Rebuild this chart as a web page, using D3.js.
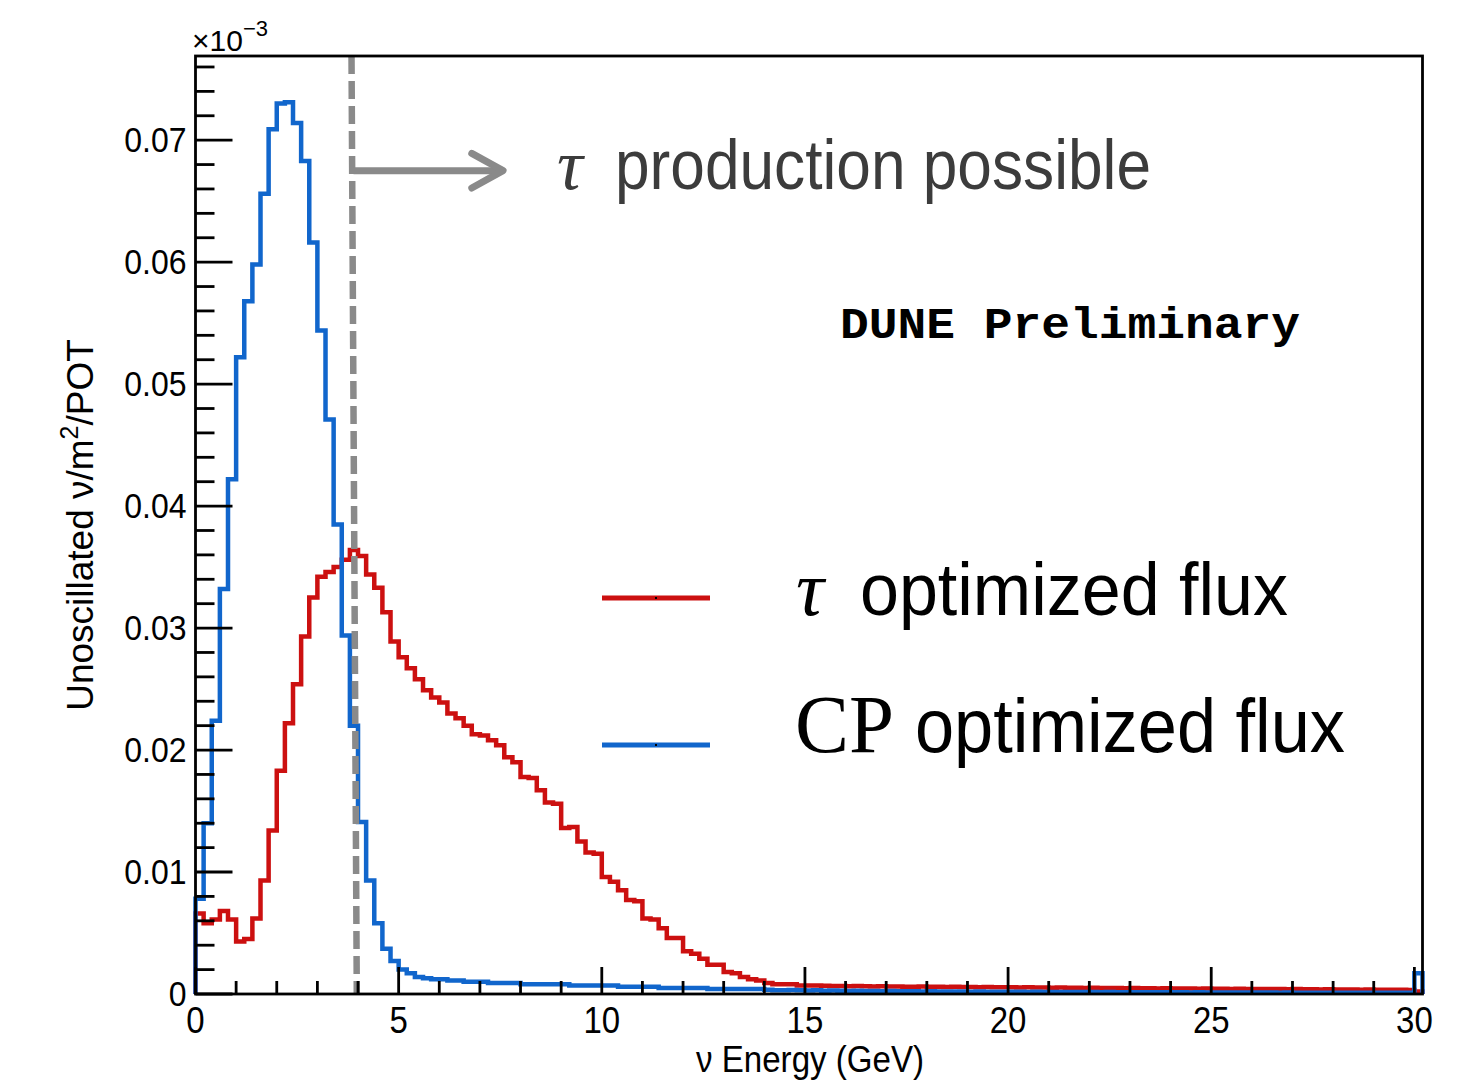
<!DOCTYPE html>
<html><head><meta charset="utf-8">
<script src="https://cdn.jsdelivr.net/npm/d3@7"></script>
<style>html,body{margin:0;padding:0;background:#fff;} svg{display:block}</style>
</head><body>
<svg id="chart" width="1457" height="1088"></svg>
<script>
// ---------------- data ----------------
const binWidth = 0.2;               // GeV
const xDomain = [0, 30.2];
const yDomain = [0, 0.0769];
const xMajorTicks = [0, 5, 10, 15, 20, 25, 30];
const xTickLabels = ["0", "5", "10", "15", "20", "25", "30"];
const xMinorTicks = [1,2,3,4,6,7,8,9,11,12,13,14,16,17,18,19,21,22,23,24,26,27,28,29];
const yMajorTicks = [0, 0.01, 0.02, 0.03, 0.04, 0.05, 0.06, 0.07];
const yTickLabels = ["0", "0.01", "0.02", "0.03", "0.04", "0.05", "0.06", "0.07"];
const yMinorTicks = [0.002,0.004,0.006,0.008,0.012,0.014,0.016,0.018,0.022,0.024,0.026,0.028,
  0.032,0.034,0.036,0.038,0.042,0.044,0.046,0.048,0.052,0.054,0.056,0.058,0.062,0.064,0.066,0.068,
  0.072,0.074,0.076];

// tau optimized flux (red), one value per 0.2 GeV bin, 0 .. 30.2 GeV
const tauFlux = [
  0.0066,0.0058,0.0061,0.0068,0.0061,0.0043,0.0045,0.0062,0.0093,0.0134,
  0.0183,0.0222,0.0254,0.0293,0.0325,0.0342,0.0346,0.0350,0.0356,0.0364,
  0.0359,0.0344,0.0333,0.0313,0.0289,0.0276,0.0267,0.0258,0.0249,0.0243,
  0.0239,0.0230,0.0226,0.0220,0.0213,0.0212,0.0208,0.0204,0.0194,0.0190,
  0.0178,0.0177,0.0167,0.0157,0.0156,0.0136,0.0137,0.0125,0.0116,0.0115,
  0.0096,0.0092,0.0085,0.0077,0.0076,0.0062,0.0061,0.0054,0.0046,0.0046,
  0.0035,0.0033,0.0029,0.0024,0.0024,0.0018,0.0017,0.0014,0.0012,0.0011,
  0.0009,0.0008,0.0008,0.0008,0.0007,0.0007,0.0007,0.00068,0.00066,0.00066,
  0.00064,0.00065,0.00063,0.00062,0.00063,0.00061,0.00062,0.0006,0.0006,0.00061,
  0.00059,0.0006,0.00058,0.00059,0.00057,0.00058,0.00056,0.00057,0.00055,0.00056,
  0.00055,0.00054,0.00055,0.00053,0.00054,0.00052,0.00053,0.00051,0.00052,0.0005,
  0.00051,0.0005,0.00049,0.0005,0.00048,0.00049,0.00047,0.00048,0.00046,0.00047,
  0.00046,0.00045,0.00046,0.00044,0.00045,0.00043,0.00044,0.00042,0.00043,0.00041,
  0.00042,0.00041,0.0004,0.00041,0.00039,0.0004,0.00038,0.00039,0.00037,0.00038,
  0.00037,0.00036,0.00037,0.00035,0.00036,0.00035,0.00034,0.00035,0.00034,0.00033,
  0.0002
];

// CP optimized flux (blue)
const cpFlux = [
  0.0078,0.0140,0.0224,0.0332,0.0422,0.0522,0.0568,0.0598,0.0656,0.0709,
  0.0730,0.0731,0.0714,0.0683,0.0616,0.0544,0.0471,0.0385,0.0294,0.0220,
  0.0141,0.0093,0.0058,0.0037,0.0027,0.0020,0.0017,0.0014,0.0013,0.0012,
  0.0012,0.0011,0.0011,0.0010,0.0010,0.0010,0.0009,0.0009,0.0009,0.0009,
  0.0008,0.0008,0.0008,0.0008,0.0008,0.0008,0.0007,0.0007,0.0007,0.0007,
  0.0007,0.0007,0.0006,0.0006,0.0006,0.0006,0.0006,0.0005,0.0005,0.0005,
  0.0005,0.0005,0.0005,0.0004,0.0004,0.0004,0.0004,0.0004,0.0004,0.0004,
  0.00035,0.0003,0.0003,0.00032,0.0003,0.00028,0.0003,0.00027,0.00028,0.00026,
  0.00025,0.00026,0.00024,0.00025,0.00023,0.00024,0.00022,0.00023,0.00022,0.00021,
  0.00022,0.0002,0.00021,0.0002,0.0002,0.00019,0.0002,0.00019,0.00018,0.00019,
  0.00018,0.00018,0.00017,0.00018,0.00017,0.00017,0.00016,0.00017,0.00016,0.00016,
  0.00016,0.00015,0.00016,0.00015,0.00015,0.00015,0.00014,0.00015,0.00014,0.00014,
  0.00014,0.00014,0.00013,0.00014,0.00013,0.00013,0.00013,0.00012,0.00013,0.00012,
  0.00012,0.00012,0.00012,0.00011,0.00012,0.00011,0.00011,0.00011,0.00011,0.0001,
  0.00011,0.0001,0.0001,0.0001,0.0001,0.0001,0.0001,0.0001,0.0001,0.0001,
  0.0017
];

const seriesNames = ["optimized flux", "optimized flux"];
const seriesPrefix = ["τ", "CP"];
const seriesColors = ["#cc1010", "#1166cc"];
const thresholdTop = 3.84, thresholdBottom = 3.97;   // drawn threshold line (GeV)

// ---------------- layout ----------------
const svg = d3.select("#chart");
const plot = {left: 195.5, right: 1422.5, top: 56, bottom: 994};
const x = d3.scaleLinear().domain(xDomain).range([plot.left, plot.right]);
const y = d3.scaleLinear().domain(yDomain).range([plot.bottom, plot.top]);
const sans = "'Liberation Sans', Arial, Helvetica, sans-serif";
const serif = "'Liberation Serif', 'Times New Roman', serif";

function histPoints(vals) {
  const pts = [[0, 0]];
  vals.forEach((v, i) => {
    pts.push([i * binWidth, v]);
    pts.push([(i + 1) * binWidth, v]);
  });
  pts.push([vals.length * binWidth, 0]);
  return pts;
}
const line = d3.line().x(d => x(d[0])).y(d => y(d[1]));

// histograms
[tauFlux, cpFlux].forEach((vals, k) => {
  svg.append("path")
    .attr("d", line(histPoints(vals)))
    .attr("fill", "none")
    .attr("stroke", seriesColors[k])
    .attr("stroke-width", 4.5)
    .attr("stroke-linejoin", "miter");
});

// threshold dashed line
svg.append("line")
  .attr("x1", x(thresholdTop)).attr("y1", plot.top)
  .attr("x2", x(thresholdBottom)).attr("y2", plot.bottom)
  .attr("stroke", "#8a8a8a").attr("stroke-width", 6.5)
  .attr("stroke-dasharray", "18,7");

// arrow
const arrowY = 0.0675, arrowEnd = 7.57, arrowBack = 6.8, arrowSpread = 0.00142;
const arrowG = svg.append("g").attr("stroke", "#8a8a8a").attr("stroke-width", 7)
  .attr("fill", "none").attr("stroke-linecap", "round").attr("stroke-linejoin", "round");
arrowG.append("line").attr("x1", x(thresholdTop) + 2).attr("x2", x(arrowEnd) - 3)
  .attr("y1", y(arrowY)).attr("y2", y(arrowY)).attr("stroke-linecap", "butt");
arrowG.append("path").attr("d",
  `M${x(arrowBack)},${y(arrowY + arrowSpread)} L${x(arrowEnd)},${y(arrowY)} L${x(arrowBack)},${y(arrowY - arrowSpread)}`);

// frame
svg.append("rect")
  .attr("x", plot.left).attr("y", plot.top)
  .attr("width", plot.right - plot.left).attr("height", plot.bottom - plot.top)
  .attr("fill", "none").attr("stroke", "#000").attr("stroke-width", 2.8);

// ticks
const tickG = svg.append("g").attr("stroke", "#000").attr("stroke-width", 2.8);
yMajorTicks.forEach(t => tickG.append("line").attr("x1", plot.left).attr("x2", plot.left + 37)
  .attr("y1", y(t)).attr("y2", y(t)));
yMinorTicks.forEach(t => tickG.append("line").attr("x1", plot.left).attr("x2", plot.left + 19)
  .attr("y1", y(t)).attr("y2", y(t)));
xMajorTicks.forEach(t => tickG.append("line").attr("x1", x(t)).attr("x2", x(t))
  .attr("y1", plot.bottom).attr("y2", plot.bottom - 27));
xMinorTicks.forEach(t => tickG.append("line").attr("x1", x(t)).attr("x2", x(t))
  .attr("y1", plot.bottom).attr("y2", plot.bottom - 13));

// tick labels (slightly tall glyphs like the reference)
yMajorTicks.forEach((t, i) => svg.append("text")
  .attr("transform", `translate(${plot.left - 9},${y(t) + 12}) scale(1,1.1)`)
  .attr("text-anchor", "end").attr("font-family", sans).attr("font-size", 32)
  .text(yTickLabels[i]));
xMajorTicks.forEach((t, i) => svg.append("text")
  .attr("transform", `translate(${x(t)},1033) scale(1,1.1)`)
  .attr("text-anchor", "middle").attr("font-family", sans).attr("font-size", 33)
  .text(xTickLabels[i]));

// exponent
const ex = svg.append("text").attr("x", 192).attr("y", 51)
  .attr("font-family", sans).attr("font-size", 30);
ex.append("tspan").text("×10");
ex.append("tspan").attr("font-size", 22).attr("dy", -15).text("−3");

// axis titles
const yt = svg.append("text")
  .attr("transform", "translate(93,525) rotate(-90)")
  .attr("text-anchor", "middle").attr("font-family", sans).attr("font-size", 37);
yt.append("tspan").text("Unoscillated ν/m");
yt.append("tspan").attr("font-size", 25).attr("dy", -15).text("2");
yt.append("tspan").attr("dy", 15).text("/POT");

svg.append("text").attr("transform", "translate(810,1072) scale(1,1.1)")
  .attr("text-anchor", "middle").attr("font-family", sans).attr("font-size", 33)
  .attr("textLength", 228).attr("lengthAdjust", "spacingAndGlyphs")
  .text("ν Energy (GeV)");

// annotation
svg.append("text").attr("x", 557).attr("y", 189)
  .attr("font-family", serif).attr("font-style", "italic").attr("font-size", 72)
  .attr("fill", "#3c3c3c").text("τ");
svg.append("text").attr("x", 615).attr("y", 189)
  .attr("font-family", sans).attr("font-size", 70).attr("fill", "#3c3c3c")
  .attr("textLength", 536).attr("lengthAdjust", "spacingAndGlyphs")
  .text("production possible");

svg.append("text").attr("x", 840).attr("y", 338)
  .attr("font-family", "'Liberation Mono', 'Courier New', monospace").attr("font-weight", "bold")
  .attr("font-size", 44).attr("textLength", 460).attr("lengthAdjust", "spacingAndGlyphs")
  .text("DUNE Preliminary");

// legend
const legendY = [598, 745];
const legendBase = [615, 752];
[0, 1].forEach(k => {
  svg.append("line").attr("x1", 602).attr("x2", 710)
    .attr("y1", legendY[k]).attr("y2", legendY[k])
    .attr("stroke", seriesColors[k]).attr("stroke-width", 5);
  svg.append("rect").attr("x", 655).attr("y", legendY[k] - 1).attr("width", 2).attr("height", 2)
    .attr("fill", "#000");
});
svg.append("text").attr("x", 796).attr("y", legendBase[0])
  .attr("font-family", serif).attr("font-style", "italic").attr("font-size", 78)
  .text(seriesPrefix[0]);
svg.append("text").attr("x", 860).attr("y", legendBase[0])
  .attr("font-family", sans).attr("font-size", 74)
  .attr("textLength", 428).attr("lengthAdjust", "spacingAndGlyphs")
  .text(seriesNames[0]);
svg.append("text").attr("x", 795).attr("y", legendBase[1])
  .attr("font-family", serif).attr("font-size", 82)
  .attr("textLength", 99).attr("lengthAdjust", "spacingAndGlyphs")
  .text(seriesPrefix[1]);
svg.append("text").attr("x", 915).attr("y", legendBase[1])
  .attr("font-family", sans).attr("font-size", 76)
  .attr("textLength", 430).attr("lengthAdjust", "spacingAndGlyphs")
  .text(seriesNames[1]);
</script>
</body></html>
